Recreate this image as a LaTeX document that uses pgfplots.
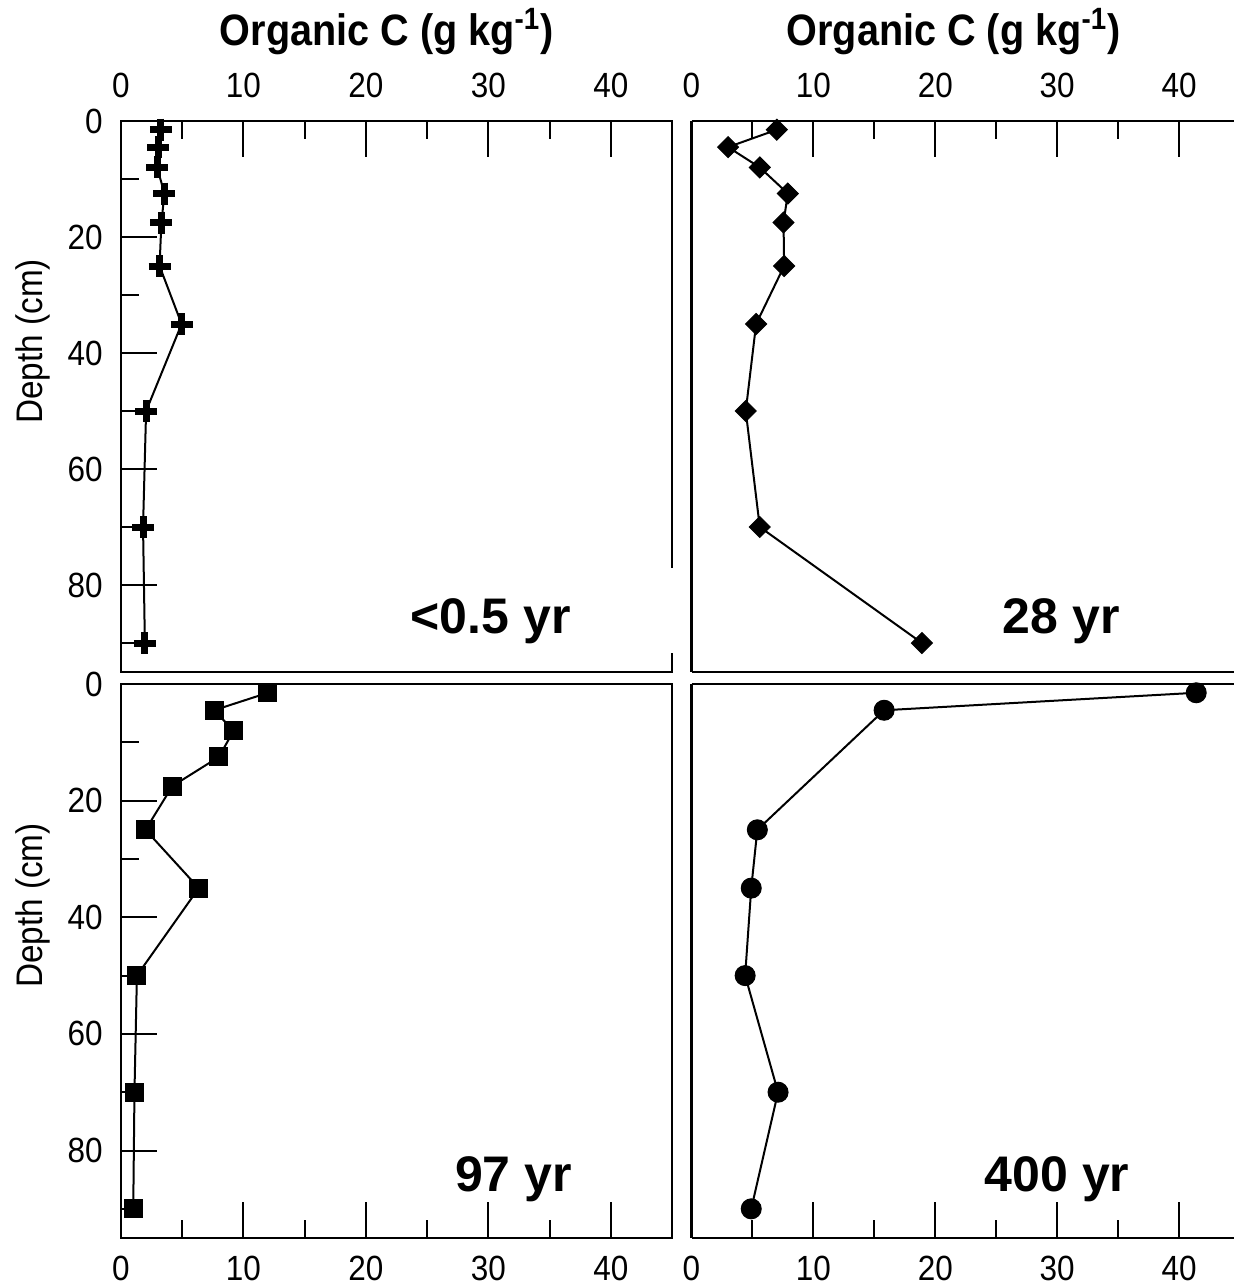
\documentclass[border=0pt]{standalone}
\usepackage{fontspec}
\setmainfont{Liberation Sans}[FakeStretch=0.9]
\newfontfamily\labfont{Liberation Sans}
\usepackage{pgfplots}
\pgfplotsset{compat=1.18}

\pgfplotsset{
  panel/.style={
    scale only axis, anchor=north west,
    xmin=0, ymin=0, ymax=95, y dir=reverse,
    tick align=inside,
    major tick length=18pt, minor tick length=9pt,
    xtick={0,10,20,30,40}, minor xtick={5,15,25,35},
    ytick={0,20,40,60,80}, minor ytick={10,30,50,70,90},
    every tick/.style={black, line width=1pt},
    axis line style={line width=1.3pt},
    tick label style={font=\fontsize{17.5}{17.5}\selectfont},
    /pgf/number format/assume math mode=true,
    clip=false,
    every axis plot/.append style={black, line width=1pt},
  },
  toppanel/.style={xtick pos=right, xticklabel pos=right,
    xticklabel style={anchor=base, inner sep=0pt, yshift=12pt}},
  botpanel/.style={xtick pos=left, xticklabel pos=left,
    xticklabel style={anchor=north, inner sep=0pt, yshift=-9pt}},
  leftpanel/.style={width=275.5pt, xmax=45, ytick pos=left,
    yticklabel style={anchor=east, inner sep=0pt, xshift=-9pt}},
  rightpanel/.style={width=271.25pt, xmax=44.5, ytick=\empty, minor ytick={},
    axis x line*=box, axis y line*=left},
}
\newcommand{\ttl}{\bfseries\fontsize{22}{22}\selectfont}
\newcommand{\lab}{\labfont\bfseries\fontsize{25}{25}\selectfont}
\newcommand{\ylab}{\fontsize{18.5}{18.5}\selectfont}

\begin{document}
\begin{tikzpicture}
\useasboundingbox (0,0) rectangle (617pt,-643.5pt);

% <0.5 yr
\begin{axis}[panel, toppanel, leftpanel, at={(60.5pt,-60.5pt)}, height=275.5pt]
  \addplot[mark=+, mark size=5.5pt, mark options={line width=3.5pt}] coordinates {
    (3.25,1.5) (3.05,4.5) (2.95,8) (3.55,12.5) (3.3,17.5) (3.15,25)
    (4.95,35) (2.05,50) (1.8,70) (1.95,90)
  };
  \fill[white] (axis cs:44,77) rectangle (axis cs:46,91.7);
  \node[anchor=base east, font=\lab] at (axis cs:37.3,88.3) {<0.5 yr};
  \node[anchor=base, font=\ttl] at (axis cs:21.7,0) [yshift=38pt] {Organic C (g kg\textsuperscript{-1})};
  \node[rotate=90, font=\ylab] at (axis cs:-7.2,38) {Depth (cm)};
\end{axis}

% 28 yr
\begin{axis}[panel, toppanel, rightpanel, at={(345.75pt,-60.5pt)}, height=275.5pt]
  \addplot[mark=square*, mark size=3.7pt, mark options={rotate=45, line width=0.5pt}] coordinates {
    (7.0,1.5) (3.0,4.5) (5.6,8) (7.9,12.5) (7.55,17.5) (7.6,25)
    (5.3,35) (4.45,50) (5.6,70) (18.9,90)
  };
  \node[anchor=base east, font=\lab] at (axis cs:35.7,88.3) {28 yr};
  \node[anchor=base, font=\ttl] at (axis cs:21.5,0) [yshift=38pt] {Organic C (g kg\textsuperscript{-1})};
\end{axis}

% 97 yr
\begin{axis}[panel, botpanel, leftpanel, at={(60.5pt,-342pt)}, height=277pt]
  \addplot[mark=square*, mark size=4.5pt, mark options={line width=0.5pt}] coordinates {
    (12.0,1.5) (7.6,4.5) (9.2,8) (8.0,12.5) (4.2,17.5) (2.0,25)
    (6.35,35) (1.3,50) (1.1,70) (1.0,90)
  };
  \node[anchor=base east, font=\lab] at (axis cs:37.4,87) {97 yr};
  \node[rotate=90, font=\ylab] at (axis cs:-7.2,38) {Depth (cm)};
\end{axis}

% 400 yr
\begin{axis}[panel, botpanel, rightpanel, at={(345.75pt,-342pt)}, height=277pt]
  \addplot[mark=*, mark size=5pt, mark options={line width=0.5pt}] coordinates {
    (41.4,1.5) (15.8,4.5) (5.4,25) (4.9,35) (4.4,50) (7.1,70) (4.9,90)
  };
  \node[anchor=base east, font=\lab] at (axis cs:36.5,87) {400 yr};
\end{axis}
\end{tikzpicture}
\end{document}
